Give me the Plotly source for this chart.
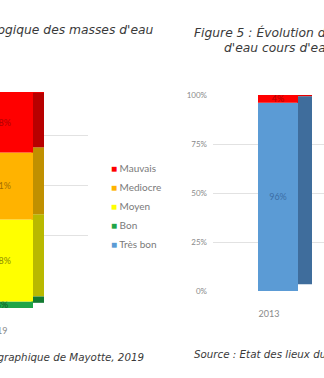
import plotly.graph_objects as go

# Ecological status classes, stacked from bottom to top
classes = ["Très bon", "Bon", "Moyen", "Mediocre", "Mauvais"]
legend_order = ["Mauvais", "Mediocre", "Moyen", "Bon", "Très bon"]

# Share of water bodies per class (%), same order as `classes`
years_2019 = ["2019"]
etat_2019 = [0, 3, 38, 31, 28]
years_2013 = ["2013"]
etat_2013 = [96, 0, 0, 0, 4]

tick_pct = [0, 25, 50, 75, 100]
tick_pct_labels = ["0%", "25%", "50%", "75%", "100%"]

front = {"Très bon": "#5b9bd5", "Bon": "#1fa548", "Moyen": "#ffff00",
         "Mediocre": "#ffb300", "Mauvais": "#ff0000"}
side = {"Très bon": "#3f6d9c", "Bon": "#137a31", "Moyen": "#b9b900",
        "Mediocre": "#c09000", "Mauvais": "#b80000"}
top = {"Très bon": "#6fa8dc", "Bon": "#2bb556", "Moyen": "#f2f200",
       "Mediocre": "#f5b000", "Mauvais": "#e80000"}
label_col = {"Très bon": "#3b6ea5", "Bon": "#0e5a22", "Moyen": "#8c8c00",
             "Mediocre": "#a46f00", "Mauvais": "#b00000"}

W, H = 324, 378
FONT = "Lato"
TITLE_FONT = "DejaVu Sans"
GRID = "#e2e2e2"
TICK = "#8a8a8a"


def px_x(p):
    return p / W


def px_y(p):
    return 1 - p / H


fig = go.Figure()


def add_stack(values, xa, ya, side_w, rise, xpos=0):
    """Stacked bar with a darker side face and a top face for a 3-D look."""
    cum = 0
    last = None
    fronts = []
    for cls, v in zip(classes, values):
        if v > 0:
            fig.add_trace(go.Bar(
                x=[xpos], y=[v], base=[cum + rise], width=side_w + 0.02,
                offset=0.38,
                marker=dict(color=side[cls], line=dict(width=0)),
                xaxis=xa, yaxis=ya, showlegend=False, hoverinfo="skip"))
            fronts.append(go.Bar(
                x=[xpos], y=[v], base=[cum], width=0.8, offset=-0.4,
                marker=dict(color=front[cls], line=dict(width=0)),
                text=[f"{v}%"], textposition="inside",
                insidetextanchor="middle", constraintext="none",
                textfont=dict(family=FONT, size=9, color=label_col[cls]),
                xaxis=xa, yaxis=ya, showlegend=False, name=cls))
            last = cls
        cum += v
    fig.add_trace(go.Bar(
        x=[xpos], y=[rise + 0.5], base=[cum - 0.5], width=0.8,
        offset=-0.4 + side_w,
        marker=dict(color=top[last], line=dict(width=0)),
        xaxis=xa, yaxis=ya, showlegend=False, hoverinfo="skip"))
    for tr in fronts:
        fig.add_trace(tr)


add_stack(etat_2019, "x", "y", side_w=0.142, rise=2.4)
add_stack(etat_2013, "x2", "y2", side_w=0.28, rise=3.4)

# back-wall gridlines for the 2019 panel
fig.add_trace(go.Scatter(x=[None], y=[None], xaxis="x3", yaxis="y3",
                         showlegend=False, hoverinfo="skip"))

# legend entries
for cls in legend_order:
    fig.add_trace(go.Scatter(
        x=[None], y=[None], mode="markers", xaxis="x3", yaxis="y3",
        marker=dict(color="rgba(0,0,0,0)", size=1),
        name=f'<span style="color:{front[cls]}">■</span> {cls}'))

axis_font = dict(family=FONT, size=9, color=TICK)

fig.update_layout(
    width=W, height=H,
    margin=dict(l=0, r=0, t=0, b=0, autoexpand=False),
    paper_bgcolor="white", plot_bgcolor="white",
    barmode="overlay",
    showlegend=True,
    legend=dict(x=px_x(71), y=px_y(154), xanchor="left", yanchor="top",
                font=dict(family=FONT, size=10, color="#7a7a7a"),
                bgcolor="rgba(0,0,0,0)", tracegroupgap=0),
    xaxis=dict(domain=[0, px_x(88)], range=[-0.026, 1.11], anchor="y",
               tickvals=[0], ticktext=years_2019, ticks="",
               ticklabelshift=-5, ticklabelstandoff=16, tickfont=axis_font,
               ticklabeloverflow="allow", automargin=False,
               showgrid=False, zeroline=False, showline=False),
    yaxis=dict(domain=[px_y(308), px_y(92)], range=[0, 100], anchor="x",
               visible=False),
    xaxis2=dict(domain=[px_x(213), 1], range=[-1.3, 0.92], anchor="y2",
                tickvals=[0], ticktext=years_2013, ticks="",
                ticklabelshift=-9, ticklabelstandoff=16, tickfont=axis_font,
                ticklabeloverflow="allow", automargin=False,
                showgrid=False, zeroline=False, showline=False),
    yaxis2=dict(domain=[px_y(291), px_y(95)], range=[0, 100], anchor="x2",
                tickvals=tick_pct, ticktext=tick_pct_labels, ticks="",
                ticklabelstandoff=5, tickfont=dict(family=FONT, size=8, color=TICK),
                showgrid=True, gridcolor=GRID, gridwidth=1, automargin=False,
                zeroline=False, showline=False),
    xaxis3=dict(domain=[px_x(44), px_x(88)], range=[0, 1], anchor="y3",
                visible=False),
    yaxis3=dict(domain=[px_y(285), px_y(85)], range=[0, 100], anchor="x3",
                tickvals=tick_pct, showticklabels=False, ticks="",
                showgrid=True, gridcolor=GRID, gridwidth=1,
                zeroline=False, showline=False),
)

title_font = dict(family=TITLE_FONT, size=12.3, color="#3a3a3a", style="italic")
cap_font = dict(family=TITLE_FONT, size=10.3, color="#3a3a3a", style="italic")

notes = [
    ("Figure 4 : État écologique des masses d'eau", 156, 30, "right", title_font),
    ("Figure 5 : Évolution de l'état écologique des masses", 192, 32, "left", title_font),
    ("d'eau cours d'eau de Mayotte", 222, 48, "left", title_font),
    ("Source : Etat des lieux du bassin hydrographique de Mayotte, 2019", 146, 357, "right", cap_font),
    ("Source : Etat des lieux du bassin hydrographique de Mayotte, 2019", 192, 354, "left", cap_font),
]
for txt, x, y, anchor, f in notes:
    fig.add_annotation(text=txt, x=px_x(x), y=px_y(y), xref="paper", yref="paper",
                       xanchor=anchor, yanchor="middle", showarrow=False, font=f)

fig.write_html("out.html")
